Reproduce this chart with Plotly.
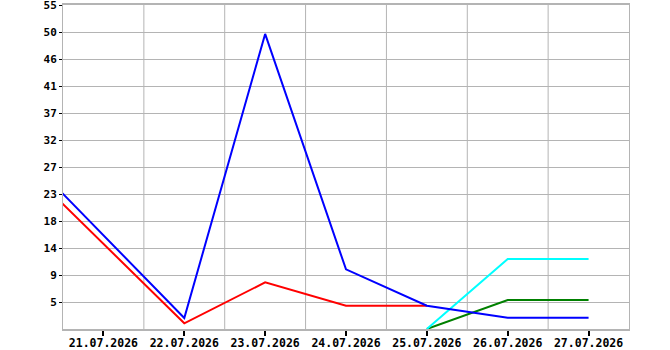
import plotly.graph_objects as go

dates = ["20.07.2026", "21.07.2026", "22.07.2026", "23.07.2026", "24.07.2026",
         "25.07.2026", "26.07.2026", "27.07.2026"]
blue = [29.9, None, 1.86, 50.0, 10.1, 3.95, 1.92, 1.92]
red = [27.9, None, 0.97, 7.9, 3.95, 3.95, None, None]
cyan = [None, None, None, None, None, 0.0, 11.86, 11.86]
green = [None, None, None, None, None, 0.0, 4.91, 4.91]

y_max = 54.9
n_steps = 12
y_tickvals = [y_max * k / n_steps for k in range(1, n_steps + 1)]
y_ticktext = [str(int(v + 0.5)) for v in y_tickvals]

xs = list(range(len(dates)))

fig = go.Figure()
font_fam = "DejaVu Sans Mono"

def add(vals, color):
    px = [x for x, v in zip(xs, vals) if v is not None]
    py = [v for v in vals if v is not None]
    fig.add_trace(go.Scatter(x=px, y=py, mode="lines",
                             line=dict(color=color, width=2), showlegend=False,
                             hoverinfo="skip"))

add(red, "#ff0000")
add(green, "#008000")
add(cyan, "#00ffff")
add(blue, "#0000ff")

# vertical grid lines at half positions
for i in range(1, 7):
    fig.add_shape(type="line", xref="x", yref="paper", x0=i + 0.5, x1=i + 0.5,
                  y0=0, y1=1, line=dict(color="#b4b4b4", width=1), layer="below")

xf = dict(family=font_fam, size=11.5, color="#000000", weight="bold")
yf = dict(family=font_fam, size=11, color="#000000", weight="bold")

fig.update_layout(
    width=670, height=350,
    margin=dict(l=63, r=41, t=5, b=21),
    paper_bgcolor="white", plot_bgcolor="white",
    font=xf,
    xaxis=dict(
        range=[0.5, 7.5], tickvals=xs[1:], ticktext=dates[1:],
        showgrid=False, zeroline=False, automargin=False,
        ticklabeloverflow="allow", ticklabelstandoff=-3,
        showline=True, linecolor="#b4b4b4", linewidth=2, mirror=True,
        ticks="outside", ticklen=5, tickwidth=2, tickcolor="#000000",
        tickfont=xf,
    ),
    yaxis=dict(
        range=[0, y_max], tickvals=y_tickvals, ticktext=y_ticktext,
        showgrid=True, gridcolor="#b4b4b4", gridwidth=1, zeroline=False,
        automargin=False, ticklabeloverflow="allow",
        showline=True, linecolor="#b4b4b4", linewidth=1, mirror=True,
        ticks="outside", ticklen=3, tickwidth=1, tickcolor="#000000",
        tickfont=yf,
    ),
)

fig.write_html("out.html")
